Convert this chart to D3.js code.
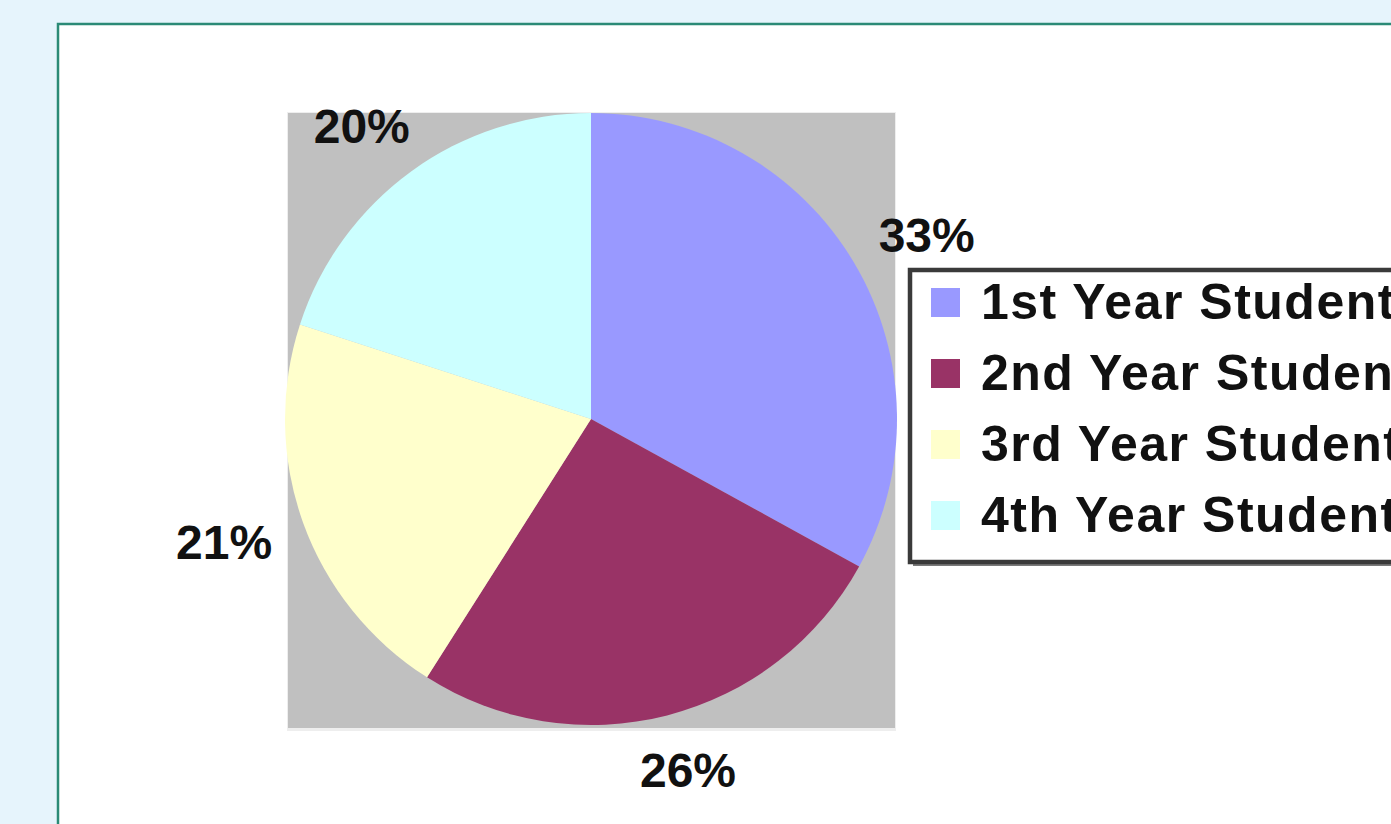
<!DOCTYPE html>
<html>
<head>
<meta charset="utf-8">
<script src="https://cdn.jsdelivr.net/npm/d3@7"></script>
<style>
  html, body { margin: 0; padding: 0; background: #e6f4fc; overflow: hidden; }
  svg { display: block; }
  text { font-family: "Liberation Sans", Arial, sans-serif; font-weight: bold; fill: #111; }
</style>
</head>
<body>
<svg id="chart" width="1391" height="824"></svg>
<script>
// Share of students by year of study
const categories = ["1st Year Students", "2nd Year Students", "3rd Year Students", "4th Year Students"];
const shares = [33, 26, 21, 20];
const sliceColors = ["#9999ff", "#993366", "#ffffcc", "#ccffff"];

const W = 1391, H = 824;
const svg = d3.select("#chart");

// outer page panel with teal frame
svg.append("rect")
  .attr("x", 58).attr("y", 24)
  .attr("width", W).attr("height", H)
  .attr("fill", "#ffffff")
  .attr("stroke", "#2b8a76").attr("stroke-width", 2.5);

// plot area
const plot = { x: 288, y: 113, w: 607, h: 615 };
svg.append("rect")
  .attr("x", plot.x - 1).attr("y", plot.y - 1)
  .attr("width", plot.w + 2).attr("height", plot.h + 4)
  .attr("fill", "#eeeeee");
svg.append("rect")
  .attr("x", plot.x).attr("y", plot.y)
  .attr("width", plot.w).attr("height", plot.h)
  .attr("fill", "#c0c0c0");

const cx = 591, cy = 419, radius = 306;

const color = d3.scaleOrdinal().domain(categories).range(sliceColors);

const pie = d3.pie()
  .sort(null)
  .value(d => d.value)
  .startAngle(0)
  .endAngle(2 * Math.PI);

const data = categories.map((c, i) => ({ name: c, value: shares[i] }));
const arcs = pie(data);

const arc = d3.arc().innerRadius(0).outerRadius(radius);

const g = svg.append("g").attr("transform", `translate(${cx},${cy})`);

g.selectAll("path.slice")
  .data(arcs)
  .join("path")
  .attr("class", "slice")
  .attr("d", arc)
  .attr("fill", d => color(d.data.name));

// percentage labels placed just outside each slice
const labelR = 342;
const labels = g.selectAll("text.pct")
  .data(arcs)
  .join("text")
  .attr("class", "pct")
  .attr("font-size", 48)
  .attr("text-anchor", "middle")
  .text(d => d.data.value + "%");

labels.each(function(d) {
  const a = (d.startAngle + d.endAngle) / 2;
  const w = this.getComputedTextLength();
  const h = 40;
  const px = Math.sin(a) * labelR + Math.sin(a) * w / 2;
  const py = -Math.cos(a) * labelR - Math.cos(a) * h / 2;
  d3.select(this).attr("x", px).attr("y", py + 17);
});

// legend
const lg = { x: 910, y: 270, w: 600, h: 292 };
svg.append("rect")
  .attr("x", lg.x + 3).attr("y", lg.y + 4)
  .attr("width", lg.w).attr("height", lg.h)
  .attr("fill", "#7a7a7a");
svg.append("rect")
  .attr("x", lg.x).attr("y", lg.y)
  .attr("width", lg.w).attr("height", lg.h)
  .attr("fill", "#ffffff")
  .attr("stroke", "#3a3a3a").attr("stroke-width", 4.5);

const rowY = d3.scalePoint().domain(categories).range([302, 515]);

const items = svg.selectAll("g.legend-item")
  .data(categories)
  .join("g")
  .attr("class", "legend-item")
  .attr("transform", d => `translate(0,${rowY(d)})`);

items.append("rect")
  .attr("x", 931).attr("y", -14)
  .attr("width", 29).attr("height", 29)
  .attr("fill", d => color(d));

items.append("text")
  .attr("x", 981).attr("y", 17)
  .attr("font-size", 50)
  .attr("letter-spacing", 1.5)
  .text(d => d);
</script>
</body>
</html>
